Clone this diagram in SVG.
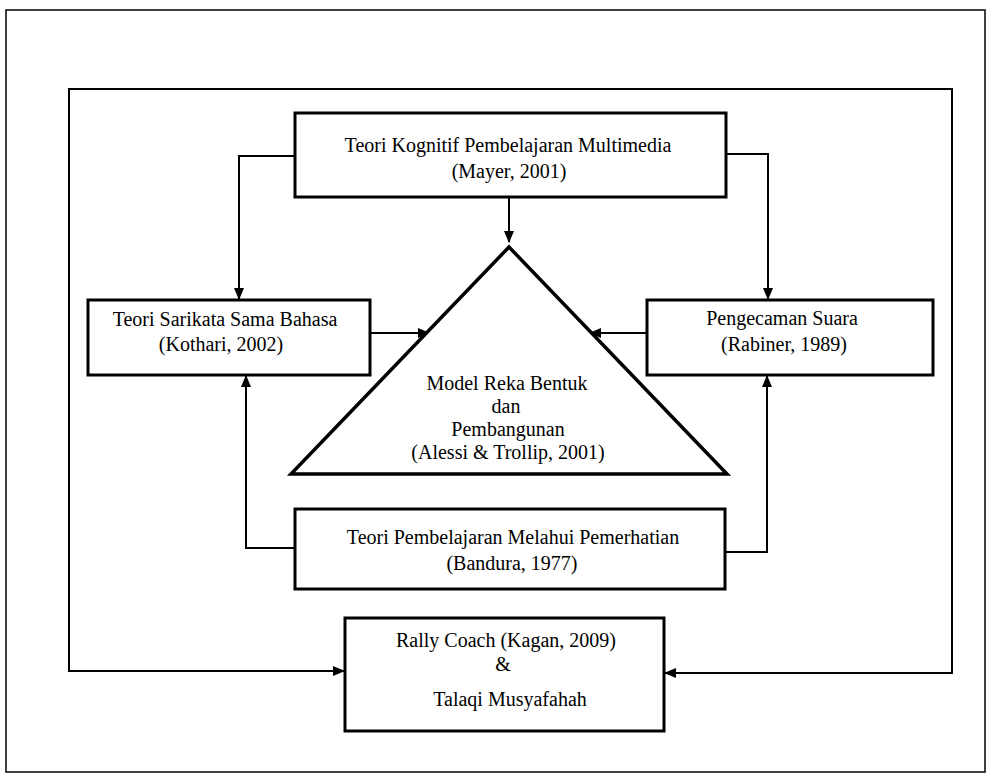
<svg xmlns="http://www.w3.org/2000/svg" width="992" height="774" viewBox="0 0 992 774">
<style>
.box{fill:#fff;stroke:#000;stroke-width:3}
.tri{fill:#fff;stroke:#000;stroke-width:3.5;stroke-linejoin:miter}
.con{fill:none;stroke:#000;stroke-width:2}
.frame{fill:none;stroke:#111;stroke-width:1.6}
text{font-family:"Liberation Serif","Times New Roman",serif;font-size:20px;fill:#000;text-anchor:middle}
</style>
<defs>
<marker id="ah" markerUnits="userSpaceOnUse" markerWidth="12" markerHeight="10" refX="11" refY="5" orient="auto">
<path d="M0,0 L12,5 L0,10 Z" fill="#000"/>
</marker>
</defs>
<rect class="frame" x="6" y="10" width="979" height="762"/>
<g id="connectors">
<path class="con" d="M510,89 H69 V671 H344" marker-end="url(#ah)"/>
<path class="con" d="M510,89 H952 V673 H665" marker-end="url(#ah)"/>
<path class="con" d="M295,156 H239 V299" marker-end="url(#ah)"/>
<path class="con" d="M726,154 H768 V299" marker-end="url(#ah)"/>
<path class="con" d="M509,197 V242" marker-end="url(#ah)"/>
<path class="con" d="M370,333 H429" marker-end="url(#ah)"/>
<path class="con" d="M647,333 H590" marker-end="url(#ah)"/>
<path class="con" d="M295,548 H246 V376" marker-end="url(#ah)"/>
<path class="con" d="M725,552 H767 V376" marker-end="url(#ah)"/>
</g>
<g id="mayer">
<rect class="box" x="295" y="113" width="431" height="84"/>
<text x="508" y="152">Teori Kognitif Pembelajaran Multimedia</text>
<text x="509" y="178">(Mayer, 2001)</text>
</g>
<g id="kothari">
<rect class="box" x="88" y="300" width="282" height="75"/>
<text x="225" y="326">Teori Sarikata Sama Bahasa</text>
<text x="221" y="351">(Kothari, 2002)</text>
</g>
<g id="rabiner">
<rect class="box" x="647" y="300" width="286" height="75"/>
<text x="782" y="325">Pengecaman Suara</text>
<text x="784" y="351">(Rabiner, 1989)</text>
</g>
<g id="model">
<polygon class="tri" points="509,247 291,474 727,474"/>
<text x="507" y="390">Model Reka Bentuk</text>
<text x="506" y="413">dan</text>
<text x="508" y="436">Pembangunan</text>
<text x="508" y="459">(Alessi &amp; Trollip,  2001)</text>
</g>
<g id="bandura">
<rect class="box" x="295" y="509" width="430" height="80"/>
<text x="513" y="544">Teori Pembelajaran Melahui Pemerhatian</text>
<text x="512" y="570">(Bandura, 1977)</text>
</g>
<g id="rally">
<rect class="box" x="345" y="618" width="319" height="113"/>
<text x="506" y="647">Rally Coach (Kagan, 2009)</text>
<text x="503" y="671">&amp;</text>
<text x="510" y="706">Talaqi Musyafahah</text>
</g>
</svg>
